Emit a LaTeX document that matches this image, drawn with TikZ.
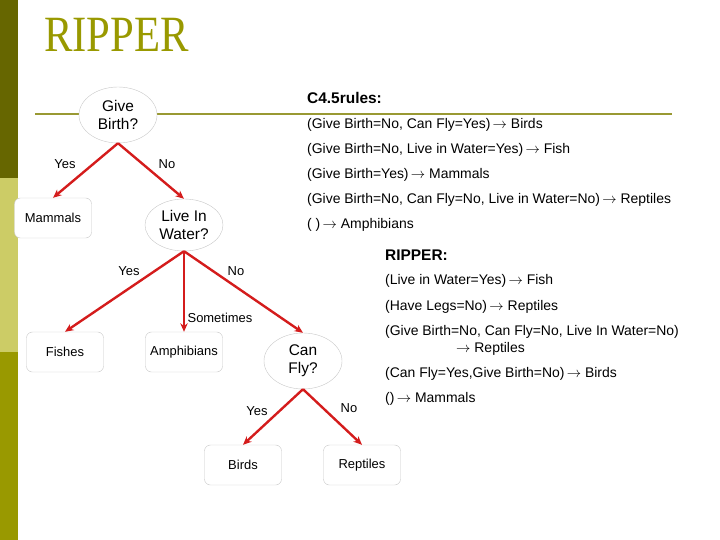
\documentclass[tikz,border=0pt]{standalone}
\usepackage{fontspec}
\setmainfont{Liberation Sans}
\newfontfamily\titlefont{Liberation Serif}
\newcommand{\ra}{\,$\rightarrow$}
\usetikzlibrary{arrows.meta,shapes.geometric}
\definecolor{olivedark}{RGB}{102,102,0}
\definecolor{olivelight}{RGB}{204,204,102}
\definecolor{olivemid}{RGB}{153,153,0}
\definecolor{rulecol}{RGB}{153,153,51}
\definecolor{edgered}{RGB}{212,28,28}
\definecolor{rim}{RGB}{200,200,200}
\tikzset{
  test/.style={ellipse,draw=rim,fill=white,inner sep=1pt,minimum width=78bp,
    minimum height=56bp,font=\fontsize{15.5}{18}\selectfont,align=center},
  leaf/.style={draw=rim,rounded corners=6pt,fill=white,minimum width=77bp,
    minimum height=40bp,font=\fontsize{13}{15}\selectfont},
  arr/.style={-{Stealth[length=3mm,width=2.6mm]},line width=2.4pt,edgered},
  lbl/.style={font=\fontsize{13}{15}\selectfont,inner sep=0pt},
  rl/.style={anchor=base west,font=\fontsize{14}{16}\selectfont,inner sep=0pt},
  hd/.style={anchor=base west,font=\fontsize{15.5}{18}\selectfont\bfseries,inner sep=0pt},
}

\begin{document}
\begin{tikzpicture}[x=1bp,y=-1bp]
  \useasboundingbox (0,0) rectangle (720,540);
  % side bar and title
  \fill[olivedark] (0,0) rectangle (18,178);
  \fill[olivelight] (0,178) rectangle (18,352);
  \fill[olivemid] (0,352) rectangle (18,540);
  \node[anchor=base west,inner sep=0pt,text=olivemid] (title) at (44,52)
    {\scalebox{0.84}[1]{\titlefont\fontsize{51}{51}\selectfont RIPPER}};
  \draw[rulecol,line width=3pt] (35,114) -- (672,114);

  % tree
  \node[test] (birth) at (118,115) {Give\\Birth?};
  \node[leaf] (mammals) at (53,218) {Mammals};
  \node[test,minimum height=52bp] (water) at (184,225) {Live In\\Water?};
  \node[leaf] (fishes) at (65,352) {Fishes};
  \node[leaf] (amphib) at (184,352) {Amphibians};
  \node[test] (fly) at (303,361) {Can\\Fly?};
  \node[leaf] (birds) at (243,465) {Birds};
  \node[leaf] (reptiles) at (362,465) {Reptiles};

  \draw[arr] (birth.south) -- (mammals.north);
  \draw[arr] (birth.south) -- (water.north);
  \draw[arr] (water.south) -- (fishes.north);
  \draw[arr] (water.south) -- (amphib.north);
  \draw[arr] (water.south) -- (fly.north);
  \draw[arr] (fly.south) -- (birds.north);
  \draw[arr] (fly.south) -- (reptiles.north);

  \node[lbl] (y1) at (65,164) {Yes};
  \node[lbl] (n1) at (167,164) {No};
  \node[lbl] (y2) at (129,271) {Yes};
  \node[lbl] (n2) at (236,271) {No};
  \node[lbl] (s2) at (220,318) {Sometimes};
  \node[lbl] (y3) at (257,411) {Yes};
  \node[lbl] (n3) at (349,408) {No};

  % C4.5 rules
  \node[hd] (c45) at (307,104) {C4.5rules:};
  \node[rl] (c1) at (307,129) {(Give Birth=No, Can Fly=Yes)\ra{} Birds};
  \node[rl] (c2) at (307,154) {(Give Birth=No, Live in Water=Yes)\ra{} Fish};
  \node[rl] (c3) at (307,179) {(Give Birth=Yes)\ra{} Mammals};
  \node[rl] (c4) at (307,204) {(Give Birth=No, Can Fly=No, Live in Water=No)\ra{} Reptiles};
  \node[rl] (c5) at (307,229) {( )\ra{} Amphibians};

  % RIPPER rules
  \node[hd] (rip) at (385,261) {RIPPER:};
  \node[rl] (r1) at (385,285) {(Live in Water=Yes)\ra{} Fish};
  \node[rl] (r2) at (385,310) {(Have Legs=No)\ra{} Reptiles};
  \node[rl] (r3) at (385,335) {(Give Birth=No, Can Fly=No, Live In Water=No)};
  \node[rl] (r3b) at (456,352) {$\rightarrow$ Reptiles};
  \node[rl] (r4) at (385,377) {(Can Fly=Yes,Give Birth=No)\ra{} Birds};
  \node[rl] (r5) at (385,402) {()\ra{} Mammals};
\end{tikzpicture}
\end{document}
